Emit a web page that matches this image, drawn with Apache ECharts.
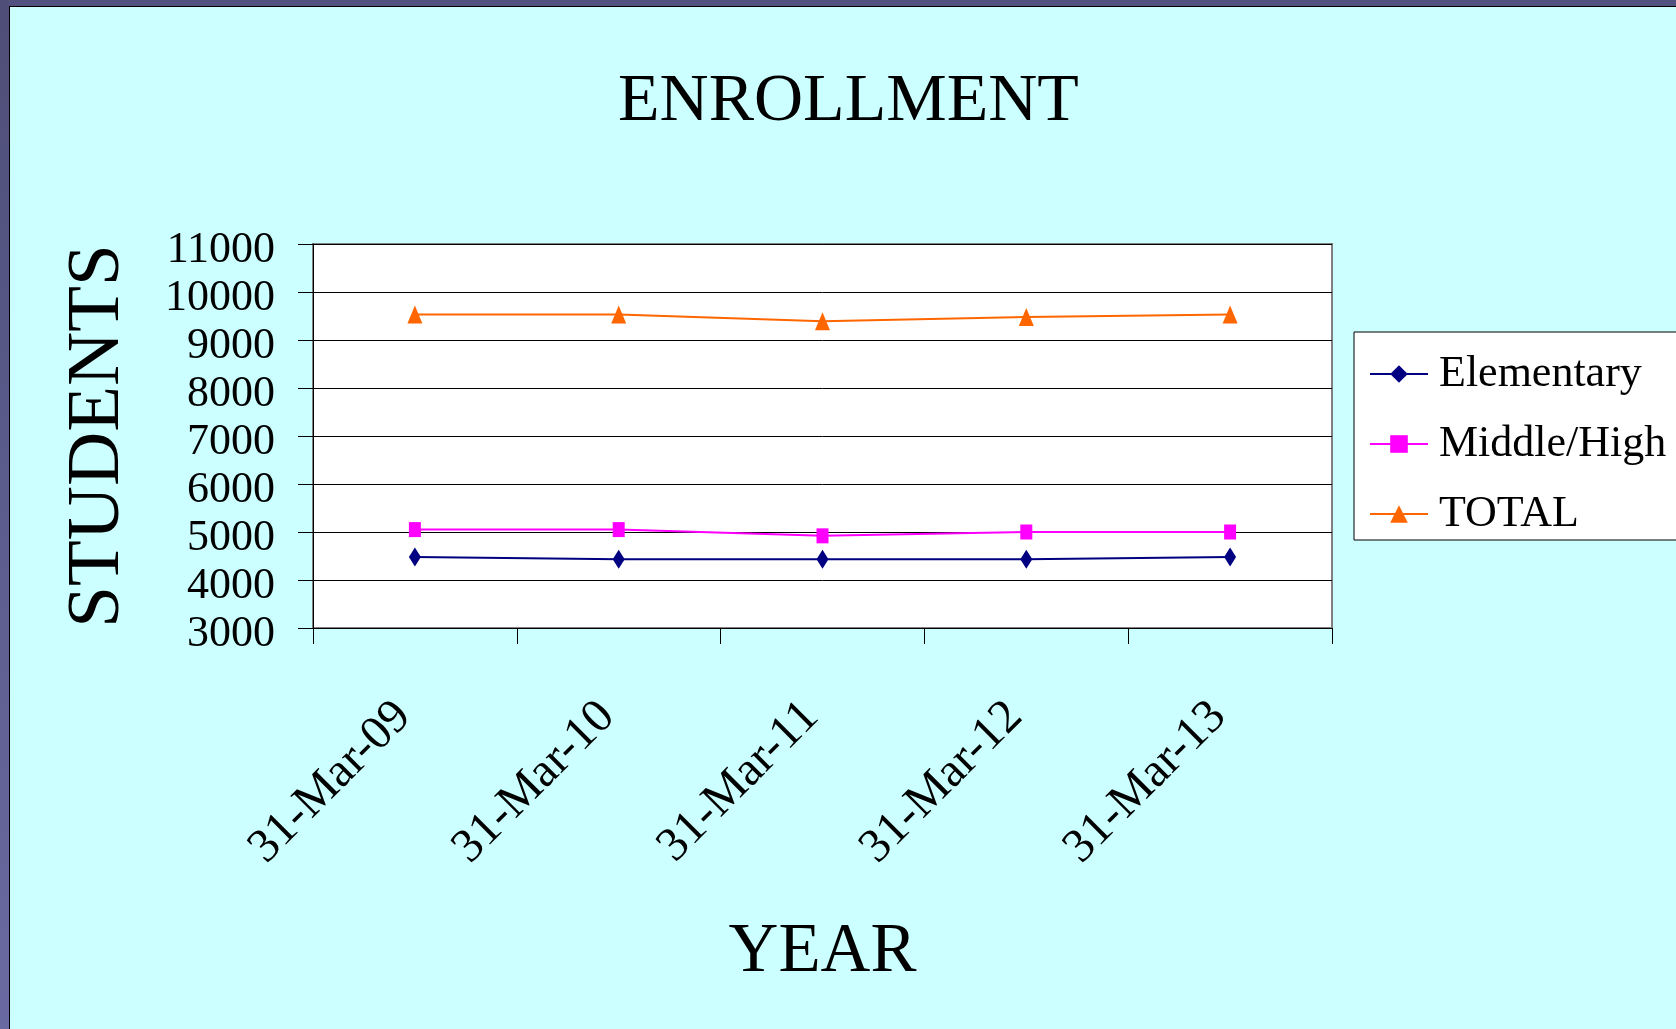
<!DOCTYPE html>
<html>
<head>
<meta charset="utf-8">
<script src="https://cdn.jsdelivr.net/npm/echarts@6/dist/echarts.min.js"></script>
<style>
  html, body { margin: 0; padding: 0; background: #CCFFFF; }
  #chart { width: 1676px; height: 1029px; }
</style>
</head>
<body>
<div id="chart"></div>
<script>
const categories = ['31-Mar-09', '31-Mar-10', '31-Mar-11', '31-Mar-12', '31-Mar-13'];
const elementary = [4480, 4430, 4430, 4430, 4480];
const middleHigh = [5050, 5050, 4920, 5000, 5000];
const total = [9530, 9530, 9390, 9480, 9530];
const yTicks = { min: 3000, max: 11000, interval: 1000 };

const FONT = "'Liberation Serif', 'Times New Roman', serif";
const chart = echarts.init(document.getElementById('chart'));

chart.setOption({
  backgroundColor: '#CCFFFF',
  animation: false,
  title: {
    text: 'ENROLLMENT',
    left: 618,
    top: 68,
    padding: 0,
    textStyle: { fontFamily: FONT, fontSize: 68, fontWeight: 'normal', color: '#000' }
  },
  graphic: [
    { type: 'rect', shape: { x: 0, y: 0, width: 1676, height: 6 }, style: { fill: '#525280' }, z: 100 },
    { type: 'rect', shape: { x: 0, y: 6, width: 1676, height: 1 }, style: { fill: '#000' }, z: 100 },
    { type: 'rect', shape: { x: 0, y: 0, width: 9, height: 1029 },
      style: { fill: new echarts.graphic.LinearGradient(0, 0, 0, 1, [
        { offset: 0, color: '#4e4e78' }, { offset: 1, color: '#6a6aa2' }]) }, z: 100 },
    { type: 'rect', shape: { x: 9, y: 6, width: 1, height: 1023 }, style: { fill: '#000' }, z: 100 }
  ],
  legend: {
    orient: 'vertical',
    left: 1354,
    top: 332,
    padding: [20, 12, 4, 15],
    itemGap: 26,
    itemWidth: 58,
    itemHeight: 22,
    backgroundColor: '#fff',
    borderColor: '#000',
    borderWidth: 1,
    textStyle: { fontFamily: FONT, fontSize: 44, color: '#000', padding: [0, 0, 0, 6] },
    data: ['Elementary', 'Middle/High', 'TOTAL']
  },
  grid: {
    left: 313, top: 244, right: 344, bottom: 401,
    show: true,
    backgroundColor: '#fff',
    borderColor: '#808080',
    borderWidth: 2
  },
  xAxis: {
    type: 'category',
    data: categories,
    boundaryGap: true,
    name: 'YEAR',
    nameLocation: 'middle',
    nameGap: 290,
    nameTextStyle: { fontFamily: FONT, fontSize: 69, color: '#000' },
    axisLine: { lineStyle: { color: '#000', width: 1 } },
    axisTick: { show: true, length: 16, lineStyle: { color: '#000' } },
    axisLabel: {
      rotate: 45,
      margin: 70,
      padding: [0, 16, 0, 0],
      fontFamily: FONT,
      fontSize: 48,
      color: '#000'
    }
  },
  yAxis: {
    type: 'value',
    min: yTicks.min,
    max: yTicks.max,
    interval: yTicks.interval,
    name: 'STUDENTS',
    nameLocation: 'middle',
    nameGap: 177,
    nameRotate: 90,
    nameTextStyle: { fontFamily: FONT, fontSize: 75, color: '#000' },
    axisLine: { show: true, lineStyle: { color: '#000', width: 1 } },
    axisTick: { show: true, length: 15, lineStyle: { color: '#000' } },
    splitLine: { show: true, lineStyle: { color: '#000', width: 1 } },
    axisLabel: {
      margin: 38, fontFamily: FONT, fontSize: 44, color: '#000',
      verticalAlign: 'top',
      lineHeight: 12,
      formatter: function (v) { return String(v); }
    }
  },
  series: [
    {
      name: 'Elementary', type: 'line', data: elementary,
      symbol: 'diamond', symbolSize: [12, 19],
      itemStyle: { color: '#000080' },
      lineStyle: { color: '#000080', width: 2 }
    },
    {
      name: 'Middle/High', type: 'line', data: middleHigh,
      symbol: 'rect', symbolSize: [12, 15],
      itemStyle: { color: '#FF00FF' },
      lineStyle: { color: '#FF00FF', width: 2 }
    },
    {
      name: 'TOTAL', type: 'line', data: total,
      symbol: 'triangle', symbolSize: [15, 18],
      itemStyle: { color: '#FF6600' },
      lineStyle: { color: '#FF6600', width: 2 }
    }
  ]
});
</script>
</body>
</html>
